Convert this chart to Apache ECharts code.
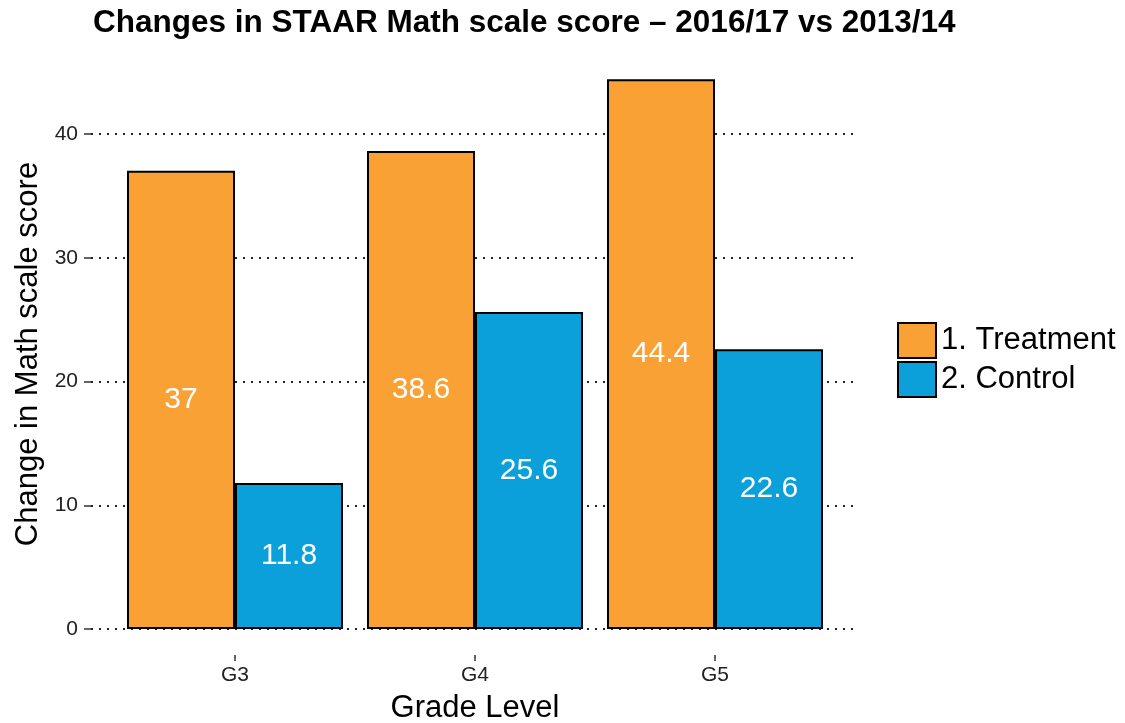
<!DOCTYPE html>
<html><head><meta charset="utf-8">
<script src="https://cdn.jsdelivr.net/npm/echarts@6/dist/echarts.min.js"></script>
<style>html,body{margin:0;padding:0;background:#fff}#c{width:1125px;height:723px}</style>
</head><body><div id="c"></div>
<script>
const categories = ['G3', 'G4', 'G5'];
const seriesNames = ['1. Treatment', '2. Control'];
const treatment = [37, 38.6, 44.4];
const control = [11.8, 25.6, 22.6];
const yTicks = [0, 10, 20, 30, 40];

const FONT = '"Liberation Sans", Arial, Helvetica, sans-serif';
const chart = echarts.init(document.getElementById('c'));
const barStyle = (color) => ({ color: color, borderColor: '#000', borderWidth: 2 });
const labelStyle = { show: true, position: 'inside', color: '#fff', fontSize: 30, fontFamily: FONT };

chart.setOption({
  animation: false,
  backgroundColor: '#fff',
  textStyle: { fontFamily: FONT },
  title: {
    text: 'Changes in STAAR Math scale score \u2013 2016/17 vs 2013/14',
    left: 88, top: 2,
    textStyle: { fontSize: 31.5, fontWeight: 'bold', color: '#000', fontFamily: FONT }
  },
  legend: {
    data: seriesNames,
    orient: 'vertical',
    left: 897, top: 322, padding: 0,
    itemWidth: 38, itemHeight: 35, itemGap: 2,
    icon: 'rect',
    itemStyle: { borderColor: '#000', borderWidth: 2 },
    textStyle: { fontSize: 31, color: '#000', fontFamily: FONT }
  },
  graphic: [{
    type: 'text', x: 28, y: 354, rotation: Math.PI / 2,
    style: { text: 'Change in Math scale score', fontSize: 31, fontFamily: FONT, fill: '#000', align: 'center', verticalAlign: 'middle' }
  }],
  grid: [
    { left: 115, right: 290, top: 52, bottom: 94, outerBoundsMode: 'none', containLabel: false },
    { left: 91, right: 266, top: 134, bottom: 94, outerBoundsMode: 'none', containLabel: false },
    { left: 115, right: 290, top: 654, height: 1, outerBoundsMode: 'none', containLabel: false }
  ],
  xAxis: [
    { type: 'category', data: categories, gridIndex: 0, show: false },
    { type: 'category', data: categories, gridIndex: 1, show: false },
    {
      type: 'category', data: categories, gridIndex: 2,
      axisLine: { show: false },
      axisTick: { show: true, alignWithLabel: true, length: 6, lineStyle: { color: '#333', width: 1.5 } },
      axisLabel: { fontSize: 21, color: '#222', margin: 10, fontFamily: FONT },
      splitLine: { show: false },
      name: 'Grade Level', nameLocation: 'middle', nameGap: 38,
      nameTextStyle: { fontSize: 31, color: '#000', fontFamily: FONT }
    }
  ],
  yAxis: [
    { type: 'value', gridIndex: 0, min: 0, max: 46.6, show: false, splitLine: { show: false } },
    {
      type: 'value', gridIndex: 1, min: 0, max: 40, interval: 10,
      axisLine: { show: false },
      axisTick: { show: true, length: 7, lineStyle: { color: '#333', width: 1.5 } },
      axisLabel: { fontSize: 21, color: '#222', margin: 13, fontFamily: FONT,
        formatter: (v) => yTicks.includes(v) ? String(v) : '' },
      splitLine: { show: true, lineStyle: { color: '#222', width: 2, type: [2, 6] } }
    },
    { type: 'value', gridIndex: 2, min: 0, max: 1, show: false, splitLine: { show: false } }
  ],
  series: [
    {
      name: seriesNames[0], type: 'bar', xAxisIndex: 0, yAxisIndex: 0, data: treatment,
      barCategoryGap: '10%', barGap: '0%', itemStyle: barStyle('#F9A134'), label: labelStyle, z: 3
    },
    {
      name: seriesNames[1], type: 'bar', xAxisIndex: 0, yAxisIndex: 0, data: control,
      barCategoryGap: '10%', barGap: '0%', itemStyle: barStyle('#0CA0DB'), label: labelStyle, z: 3
    }
  ]
});
</script></body></html>
